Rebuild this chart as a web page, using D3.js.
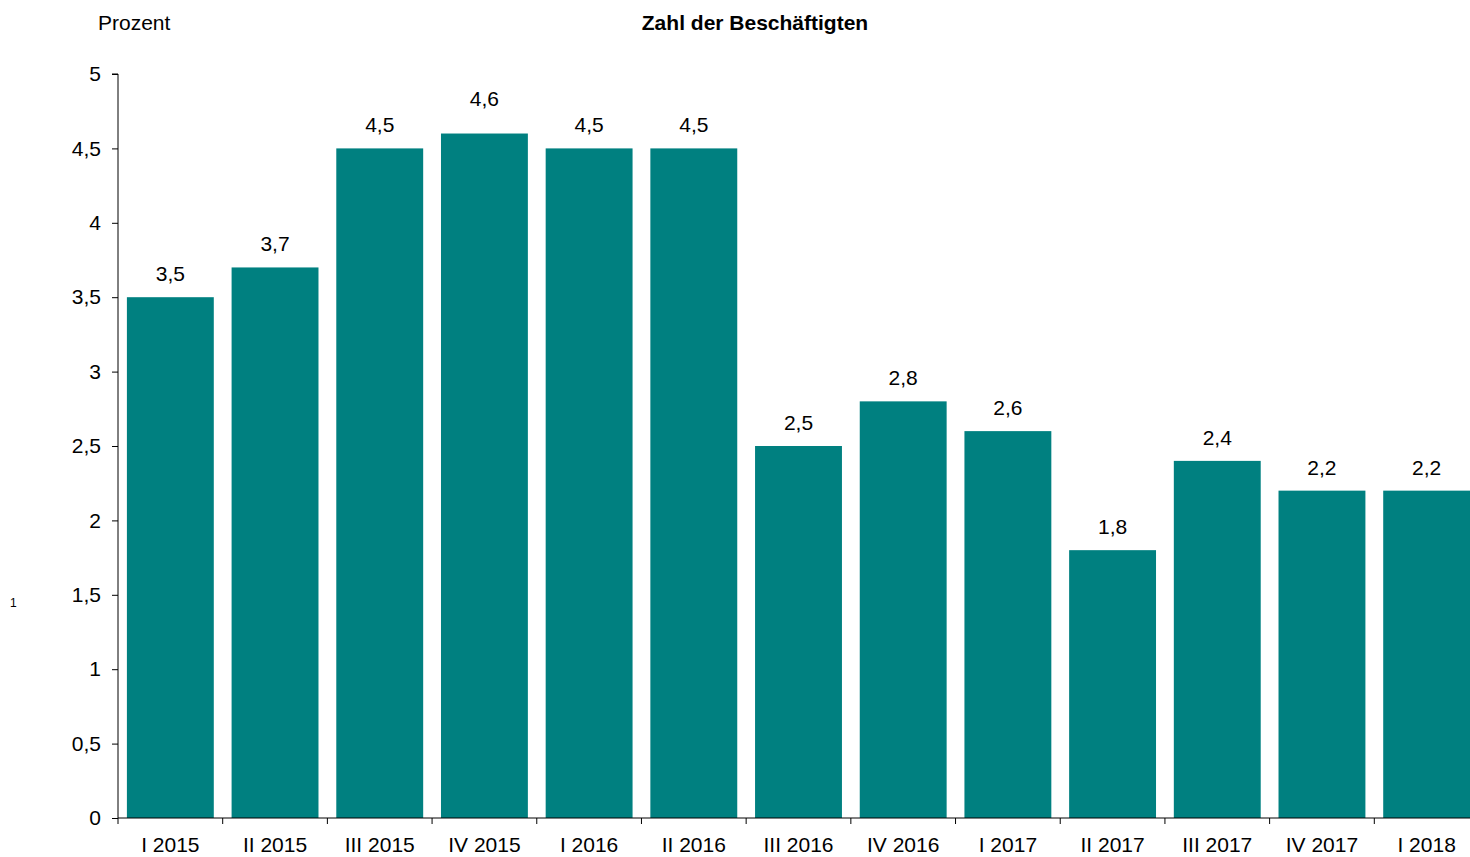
<!DOCTYPE html>
<html><head><meta charset="utf-8">
<script src="https://cdn.jsdelivr.net/npm/d3@7"></script>
<style>body{margin:0;background:#fff;} svg{display:block;} text{font-family:"Liberation Sans",Arial,sans-serif;fill:#000;}</style>
</head><body>
<svg id="c" width="1470" height="857"></svg>
<script>
const categories = ["I 2015","II 2015","III 2015","IV 2015","I 2016","II 2016","III 2016","IV 2016","I 2017","II 2017","III 2017","IV 2017","I 2018"];
const values = [3.5,3.7,4.5,4.6,4.5,4.5,2.5,2.8,2.6,1.8,2.4,2.2,2.2];
const yTicks = [0,0.5,1,1.5,2,2.5,3,3.5,4,4.5,5];
const title = "Zahl der Beschäftigten";
const unitLabel = "Prozent";
const footnote = "1";

const FS = 21;
const svg = d3.select("#c");
const x0 = 118, plotRight = 1479, yBottom = 818, yTop = 74;
const x = d3.scaleBand().domain(categories).range([x0, plotRight]).paddingInner(0.17).paddingOuter(0.085);
const y = d3.scaleLinear().domain([0,5]).range([yBottom, yTop]);
const fmt = v => String(v).replace(".", ",");

svg.selectAll("rect.bar").data(values).join("rect").attr("class","bar")
  .attr("x",(d,i)=>x(categories[i])).attr("width",x.bandwidth())
  .attr("y",d=>y(d)).attr("height",d=>y(0)-y(d)).attr("fill","#008080");

// label placement: labels are kept clear of the plot top; the maximum label sits higher (as in the original)
const maxV = d3.max(values);
svg.selectAll("text.val").data(values).join("text").attr("class","val")
  .attr("x",(d,i)=>x(categories[i])+x.bandwidth()/2)
  .attr("y",d=>y(d)-(d===maxV?28:16))
  .attr("text-anchor","middle").attr("font-size",FS).text(fmt);

// y axis
const yAxis = d3.axisLeft(y).tickValues(yTicks).tickFormat(fmt).tickSize(6).tickPadding(11);
const ga = svg.append("g").attr("transform",`translate(${x0},0)`).call(yAxis);
ga.selectAll("text").attr("font-size",FS).style("font-family",'"Liberation Sans",Arial,sans-serif');
ga.select(".domain").attr("d",`M-6,${yTop}H0V${yBottom}`).attr("stroke","#000");
ga.selectAll(".tick line").attr("stroke","#000");

// x axis
const gx = svg.append("g").attr("transform",`translate(0,${yBottom})`);
gx.append("line").attr("x1",x0).attr("x2",1470).attr("y1",0).attr("y2",0).attr("stroke","#000");
const step = x.step();
const tickPos = d3.range(categories.length).map(i=>x0+i*step);
gx.selectAll("line.t").data(tickPos).join("line").attr("class","t")
  .attr("x1",d=>d).attr("x2",d=>d).attr("y1",0).attr("y2",6).attr("stroke","#000");
gx.selectAll("text").data(categories).join("text")
  .attr("x",d=>x(d)+x.bandwidth()/2).attr("y",34).attr("text-anchor","middle").attr("font-size",FS).text(d=>d);

svg.append("text").attr("x",98).attr("y",30).attr("font-size",FS).text(unitLabel);
svg.append("text").attr("x",755).attr("y",30).attr("text-anchor","middle").attr("font-size",FS).attr("font-weight","bold").text(title);
svg.append("text").attr("x",10).attr("y",607).attr("font-size",12).text(footnote);
</script>
</body></html>
